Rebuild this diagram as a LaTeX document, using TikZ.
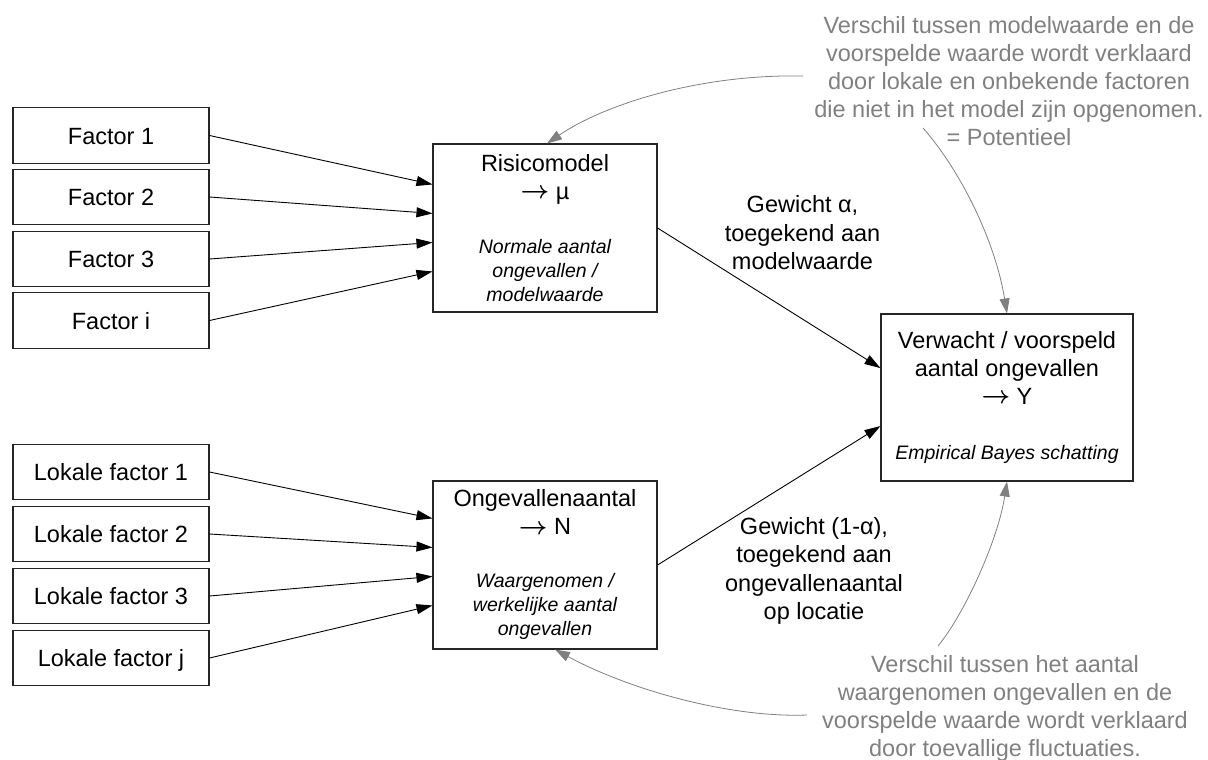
\documentclass[tikz,border=0pt]{standalone}
\usepackage{fontspec}
\setmainfont{Liberation Sans}
\usetikzlibrary{arrows.meta,calc}
\definecolor{annot}{RGB}{128,128,128}
\newcommand\mysubfont{\fontsize{19.5}{24}\selectfont\itshape}
\newcommand\myarrow{\raisebox{0.5pt}{\boldmath$\rightarrow$}}
\begin{document}
\begin{tikzpicture}[x=1pt,y=1pt,
  fbox/.style={draw=black!85, line width=1.1pt, minimum width=196pt, minimum height=55.5pt, inner sep=0pt,
    font=\fontsize{23.5}{28}\selectfont, text height=17pt, text depth=0pt},
  mbox/.style={draw=black!85, line width=1.1pt, inner sep=0pt, align=center, font=\fontsize{23.5}{28}\selectfont},
  arr/.style={line width=0.9pt, -{Triangle[length=16pt,width=10pt]}},
  garr/.style={draw=annot, line width=0.8pt, -{Triangle[length=15pt,width=10pt]}},
  lbl/.style={align=center, inner sep=0pt, font=\fontsize{23.5}{28.5}\selectfont},
  glbl/.style={align=center, inner sep=0pt, text=annot, font=\fontsize{23.5}{28}\selectfont}]
\useasboundingbox (0,0) rectangle (1208,-760);

% left factor boxes
\node[fbox] (f1) at (111,-135.5) {Factor 1};
\node[fbox] (f2) at (111,-197) {Factor 2};
\node[fbox] (f3) at (111,-259) {Factor 3};
\node[fbox] (fi) at (111,-320.5) {Factor i};
\node[fbox] (l1) at (111,-472) {Lokale factor 1};
\node[fbox] (l2) at (111,-534) {Lokale factor 2};
\node[fbox] (l3) at (111,-596) {Lokale factor 3};
\node[fbox] (lj) at (111,-658) {Lokale factor j};

% main boxes
\node[mbox, minimum width=224pt, minimum height=168pt] (risk) at (545,-228)
  {Risicomodel\\\myarrow{} µ\\[26pt]{\mysubfont Normale aantal}\\[-4pt]{\mysubfont ongevallen /}\\[-4pt]{\mysubfont modelwaarde}};
\node[mbox, minimum width=224pt, minimum height=168pt] (ong) at (545,-565)
  {Ongevallenaantal\\\myarrow{} N\\[25pt]{\mysubfont Waargenomen /}\\[-4pt]{\mysubfont werkelijke aantal}\\[-4pt]{\mysubfont ongevallen}};
\node[mbox, minimum width=252pt, minimum height=167pt] (ver) at (1007,-397.5)
  {Verwacht / voorspeld\\aantal ongevallen\\\myarrow{} Y\\[27pt]{\mysubfont Empirical Bayes schatting}};

% input arrows
\draw[arr] (f1.east) -- ([yshift=-41pt]risk.north west);
\draw[arr] (f2.east) -- ([yshift=-70pt]risk.north west);
\draw[arr] (f3.east) -- ([yshift=-99pt]risk.north west);
\draw[arr] (fi.east) -- ([yshift=-128pt]risk.north west);
\draw[arr] (l1.east) -- ([yshift=-38pt]ong.north west);
\draw[arr] (l2.east) -- ([yshift=-67pt]ong.north west);
\draw[arr] (l3.east) -- ([yshift=-96pt]ong.north west);
\draw[arr] (lj.east) -- ([yshift=-125pt]ong.north west);

% weights
\draw[arr] (risk.east) -- ($(ver.north west)!0.325!(ver.south west)$);
\draw[arr] (ong.east) -- ($(ver.north west)!0.67!(ver.south west)$);
\node[lbl] (wa) at (802.5,-233) {Gewicht α,\\toegekend aan\\modelwaarde};
\node[lbl] (wb) at (814,-571) {Gewicht (1-α),\\toegekend aan\\ongevallenaantal\\op locatie};

% annotations
\node[glbl] (topnote) at (1009,-81) {Verschil tussen modelwaarde en de\\voorspelde waarde wordt verklaard\\door lokale en onbekende factoren\\die niet in het model zijn opgenomen.\\= Potentieel};
\node[glbl] (botnote) at (1005,-708) {Verschil tussen het aantal\\waargenomen ongevallen en de\\voorspelde waarde wordt verklaard\\door toevallige fluctuaties.};

\coordinate (c1) at (803,-76);
\coordinate (c2) at (923,-128);
\coordinate (c3) at (938,-646);
\coordinate (c4) at (807,-715);
\draw[garr] (c1) .. controls (700,-74) and (605,-104) .. ([xshift=2pt]risk.north);
\draw[garr] (c2) .. controls (960,-170) and (995,-240) .. (ver.north);
\draw[garr] (c3) .. controls (965,-613) and (998,-540) .. (ver.south);
\draw[garr] (c4) .. controls (730,-718) and (630,-690) .. ([xshift=10pt]ong.south);
\end{tikzpicture}
\end{document}
